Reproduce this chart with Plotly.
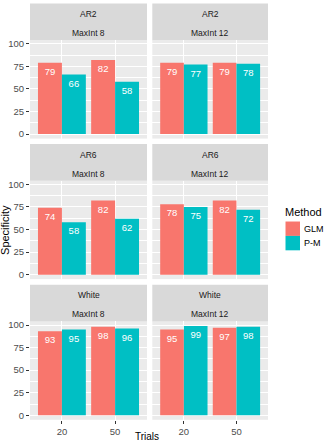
import plotly.graph_objects as go

# ---- data ----
trials = ["20", "50"]
noise = ["AR2", "AR2", "AR6", "AR6", "White", "White"]
maxint = ["MaxInt 8", "MaxInt 12", "MaxInt 8", "MaxInt 12", "MaxInt 8", "MaxInt 12"]
glm = [[79, 82], [79, 79], [74, 82], [78, 82], [93, 98], [95, 97]]
pm = [[66, 58], [77, 78], [58, 62], [75, 72], [95, 96], [99, 98]]
methods = ["GLM", "P-M"]
colors = ["#F8766D", "#00BFC4"]
yticks = [0, 25, 50, 75, 100]

# ---- layout constants (pixels) ----
W, H = 325, 445
col_x = [(30.0, 147.0), (152.3, 268.0)]
strip_top = [1.5, 143.0, 284.6]
strip_h = 37.0
panel_h = 99.0
FONT = "Liberation Sans, Arial, sans-serif"


def px(x):
    return x / W


def py(y):
    return 1 - y / H


fig = go.Figure()
shapes = []
annotations = []

for i in range(6):
    r, c = divmod(i, 2)
    idx = i + 1
    xa = "x" if idx == 1 else f"x{idx}"
    ya = "y" if idx == 1 else f"y{idx}"
    for m, vals in enumerate([glm[i], pm[i]]):
        fig.add_trace(go.Bar(
            x=trials, y=vals, name=methods[m],
            marker=dict(color=colors[m], line=dict(width=0)),
            text=[str(v) for v in vals], textposition="inside",
            insidetextanchor="end", textangle=0,
            textfont=dict(color="white", size=9.5, family=FONT),
            showlegend=False, xaxis=xa, yaxis=ya,
            offsetgroup=str(m), hoverinfo="skip",
        ))
    x0, x1 = col_x[c]
    st = strip_top[r]
    ptop = st + strip_h
    pbot = ptop + panel_h
    bottom = r == 2
    left = c == 0
    fig.layout[f"xaxis{'' if idx == 1 else idx}"] = dict(
        domain=[px(x0), px(x1)], anchor=ya, type="category",
        categoryorder="array", categoryarray=trials,
        range=[-0.6, 1.6], showgrid=True, gridcolor="white", gridwidth=1,
        zeroline=False, showline=False,
        showticklabels=bottom, ticks="outside" if bottom else "",
        ticklen=3, tickcolor="#333333", tickwidth=1,
        tickfont=dict(size=9.5, color="#4D4D4D", family=FONT),
        fixedrange=True,
    )
    fig.layout[f"yaxis{'' if idx == 1 else idx}"] = dict(
        domain=[py(pbot), py(ptop)], anchor=xa,
        range=[-4.95, 103.95], tickmode="array", tickvals=yticks,
        showgrid=True, gridcolor="white", gridwidth=1,
        minor=dict(tickmode="array", tickvals=[12.5, 37.5, 62.5, 87.5],
                   showgrid=True, gridcolor="white", gridwidth=0.5, ticks=""),
        zeroline=False, showline=False,
        showticklabels=left, ticks="outside" if left else "",
        ticklen=3, tickcolor="#333333", tickwidth=1,
        tickfont=dict(size=9.5, color="#4D4D4D", family=FONT),
        fixedrange=True,
    )
    # strip
    shapes.append(dict(type="rect", xref="paper", yref="paper",
                       x0=px(x0), x1=px(x1), y0=py(ptop), y1=py(st),
                       fillcolor="#D9D9D9", line=dict(width=0), layer="below"))
    for txt, dy in [(noise[i], 10.8), (maxint[i], 29.8)]:
        annotations.append(dict(text=txt, xref="paper", yref="paper",
                                x=px((x0 + x1) / 2), y=py(st + dy),
                                xanchor="center", yanchor="middle",
                                showarrow=False,
                                font=dict(size=8.5, color="#1A1A1A", family=FONT)))

# axis titles
annotations.append(dict(text="Specificity", xref="paper", yref="paper",
                        x=px(5.5), y=py(230), textangle=-90,
                        xanchor="center", yanchor="middle", showarrow=False,
                        font=dict(size=11, color="black", family=FONT)))
annotations.append(dict(text="Trials", xref="paper", yref="paper",
                        x=px(147), y=py(445), xanchor="center", yanchor="bottom",
                        showarrow=False,
                        font=dict(size=10, color="black", family=FONT)))

# legend (drawn manually)
annotations.append(dict(text="Method", xref="paper", yref="paper",
                        x=px(283), y=py(211.5), xanchor="left", yanchor="middle",
                        showarrow=False,
                        font=dict(size=11, color="black", family=FONT)))
key_top = [221.0, 235.5]
for m in range(2):
    shapes.append(dict(type="rect", xref="paper", yref="paper",
                       x0=px(285.5), x1=px(300.0),
                       y0=py(key_top[m] + 14.5), y1=py(key_top[m]),
                       fillcolor=colors[m], line=dict(width=0)))
    annotations.append(dict(text=methods[m], xref="paper", yref="paper",
                            x=px(301.5), y=py(key_top[m] + 7.5),
                            xanchor="left", yanchor="middle", showarrow=False,
                            font=dict(size=9, color="black", family=FONT)))

fig.update_layout(
    width=W, height=H, margin=dict(l=0, r=0, t=0, b=0),
    paper_bgcolor="white", plot_bgcolor="#EBEBEB",
    barmode="group", bargap=0.1, bargroupgap=0,
    shapes=shapes, annotations=annotations, showlegend=False,
    font=dict(family=FONT),
)

fig.write_html("out.html", config={"displayModeBar": False})
